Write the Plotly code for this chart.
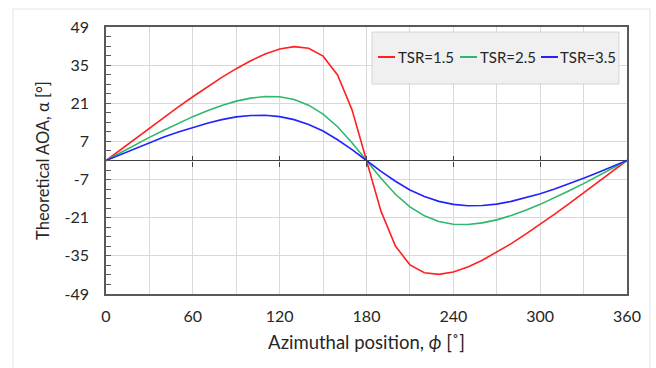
import plotly.graph_objects as go

# Azimuthal positions (degrees)
theta = [0, 10, 20, 30, 40, 50, 60, 70, 80, 90, 100, 110, 120, 130, 140, 150, 160, 170, 180,
         190, 200, 210, 220, 230, 240, 250, 260, 270, 280, 290, 300, 310, 320, 330, 340, 350, 360]

# Angle of attack (degrees) for each tip speed ratio
aoa_tsr15 = [0.0, 4.0, 8.0, 11.9, 15.8, 19.7, 23.4, 27.0, 30.5, 33.7, 36.6, 39.1, 40.9, 41.8, 41.2,
             38.3, 31.4, 18.6, 0.0, -18.6, -31.4, -38.3, -41.2, -41.8, -40.9, -39.1, -36.6, -33.7,
             -30.5, -27.0, -23.4, -19.7, -15.8, -11.9, -8.0, -4.0, 0.0]
aoa_tsr25 = [0.0, 2.9, 5.7, 8.5, 11.1, 13.7, 16.1, 18.3, 20.2, 21.8, 22.9, 23.5, 23.4, 22.4, 20.3,
             17.0, 12.4, 6.5, 0.0, -6.5, -12.4, -17.0, -20.3, -22.4, -23.4, -23.5, -22.9, -21.8,
             -20.2, -18.3, -16.1, -13.7, -11.1, -8.5, -5.7, -2.9, 0.0]
aoa_tsr35 = [0.0, 2.2, 4.4, 6.5, 8.6, 10.5, 12.2, 13.7, 15.0, 16.0, 16.5, 16.6, 16.1, 15.0, 13.2,
             10.8, 7.6, 4.0, 0.0, -4.0, -7.6, -10.8, -13.2, -15.0, -16.1, -16.6, -16.5, -16.0,
             -15.0, -13.7, -12.2, -10.5, -8.6, -6.5, -4.4, -2.2, 0.0]

series_names = ["TSR=1.5", "TSR=2.5", "TSR=3.5"]
series_colors = ["#ff2020", "#2db86a", "#2222ff"]

y_ticks = [-49, -35, -21, -7, 7, 21, 35, 49]
y_ticktext = ["-49", "-35", "-21", "-7", "7", "21", "35", "49"]
x_ticks = [0, 60, 120, 180, 240, 300, 360]
cross_ticks = [60, 120, 180, 240, 300]

FONT = "Lato"
AXIS_COLOR = "#595959"
GRID_COLOR = "#d9d9d9"

fig = go.Figure()
for name, vals, col in zip(series_names, [aoa_tsr15, aoa_tsr25, aoa_tsr35], series_colors):
    fig.add_trace(go.Scatter(x=theta, y=vals, mode="lines", name=name,
                             line=dict(color=col, width=1.6), showlegend=False))

# helper traces so the tick axes along the zero line are rendered
for ax in ["x2", "x3"]:
    fig.add_trace(go.Scatter(x=[theta[0], theta[-1]], y=[None, None], xaxis=ax,
                             showlegend=False, hoverinfo="skip", mode="lines"))

fig.update_layout(
    width=656, height=368,
    margin=dict(l=106, r=29, t=27, b=74, autoexpand=False),
    paper_bgcolor="white", plot_bgcolor="white",
    font=dict(family=FONT, size=16, color="#262626"),
    showlegend=False,
    xaxis=dict(range=[0, 360], tickvals=x_ticks, showgrid=True, gridcolor=GRID_COLOR,
               gridwidth=1, minor=dict(dtick=30, tick0=0, showgrid=True,
                                       gridcolor=GRID_COLOR, gridwidth=1),
               showline=True, linecolor=AXIS_COLOR, linewidth=1.5, mirror=True,
               ticks="", ticklabelstandoff=7, zeroline=False,
               title=dict(text="Azimuthal position, <i>ϕ</i> [˚]", font=dict(size=18.5),
                          standoff=12)),
    xaxis2=dict(range=[0, 360], overlaying="x", anchor="free", position=0.5,
                tickvals=cross_ticks, ticks="inside", ticklen=5, tickwidth=1,
                tickcolor="#404040", showticklabels=False, showgrid=False,
                showline=False, zeroline=False),
    xaxis3=dict(range=[0, 360], overlaying="x", anchor="free", position=0.5,
                tickvals=cross_ticks, ticks="outside", ticklen=5, tickwidth=1,
                tickcolor="#404040", showticklabels=False, showgrid=False,
                showline=False, zeroline=False),
    yaxis=dict(range=[-49, 49], tickvals=y_ticks, ticktext=y_ticktext, showgrid=True,
               gridcolor=GRID_COLOR, gridwidth=1, ticks="inside", ticklen=5,
               tickcolor=AXIS_COLOR,
               minor=dict(dtick=3.5, tick0=-49, ticks="inside", ticklen=5,
                          tickcolor=AXIS_COLOR, showgrid=False),
               showline=True, linecolor=AXIS_COLOR, linewidth=1.5, mirror=True,
               zeroline=True, zerolinecolor="#404040", zerolinewidth=1.2,
               ticklabelstandoff=12,
               title=dict(text="Theoretical AOA, α [°]", font=dict(size=16.5),
                          standoff=11)),
)

# outer light frame around the chart
fig.add_shape(type="rect", xref="paper", yref="paper",
              x0=-0.1785, x1=1.0441, y0=-0.31, y1=1.0674,
              line=dict(color="#e3e3e3", width=1), fillcolor="rgba(0,0,0,0)", layer="below")

# compact legend box with one row of entries
fig.add_shape(type="rect", xref="paper", yref="paper",
              x0=0.5106, x1=0.9846, y0=0.7865, y1=0.981,
              line=dict(color="#d4d4d4", width=1), fillcolor="#f0f0f0", layer="above")
legend_y = 0.8876
legend_x = [0.5221, 0.6795, 0.8349]   # left end of each entry's sample line
sample_len = 0.0326
for lx, name, col in zip(legend_x, series_names, series_colors):
    fig.add_shape(type="line", xref="paper", yref="paper",
                  x0=lx, x1=lx + sample_len, y0=legend_y, y1=legend_y,
                  line=dict(color=col, width=2), layer="above")
    fig.add_annotation(xref="paper", yref="paper", x=lx + sample_len + 0.001, y=legend_y,
                       xanchor="left", yanchor="middle", showarrow=False, text=name,
                       font=dict(size=15, color="#262626", family=FONT))

fig.write_html("out.html")
